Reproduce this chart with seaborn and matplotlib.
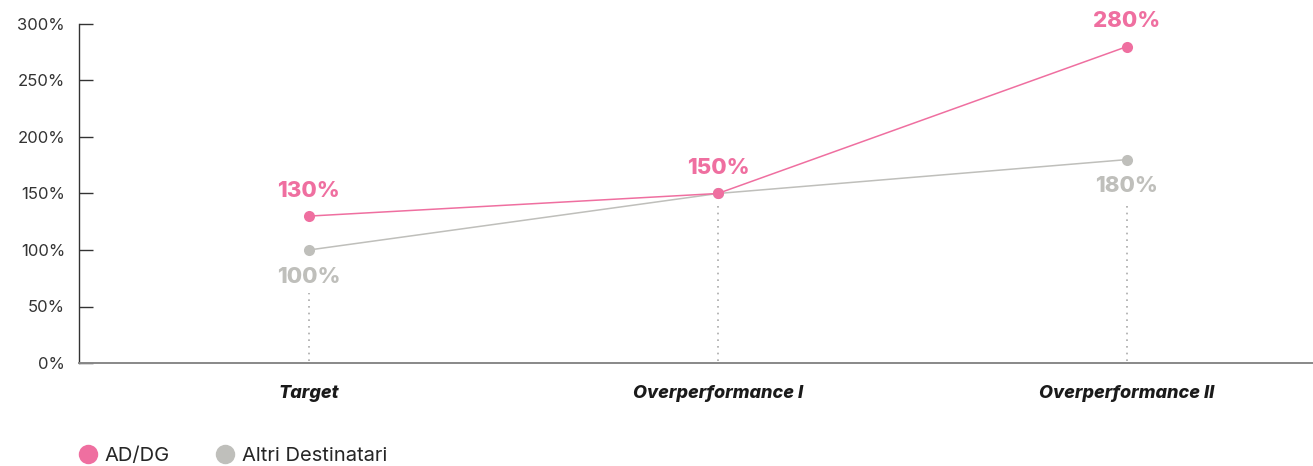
import pandas as pd
import matplotlib.pyplot as plt
import seaborn as sns
from matplotlib.lines import Line2D

# Chart data
categories = ['Target', 'Overperformance I', 'Overperformance II']
ad_dg = [130, 150, 280]
altri = [100, 150, 180]
series_names = ['AD/DG', 'Altri Destinatari']
y_ticks = [0, 50, 100, 150, 200, 250, 300]

pink = '#EF6FA0'
grey = '#BFBFBB'

df = pd.DataFrame({
    'Categoria': categories * 2,
    'Valore': ad_dg + altri,
    'Serie': [series_names[0]] * 3 + [series_names[1]] * 3,
})

sns.set_style('white')
plt.rcParams['font.family'] = ['Inter', 'DejaVu Sans']

fig = plt.figure(figsize=(13.13, 4.66), dpi=100)
ax = fig.add_axes([79 / 1313, 1 - 363 / 466, 1 - 79 / 1313, (363 - 24) / 466])

sns.lineplot(data=df, x='Categoria', y='Valore', hue='Serie', hue_order=series_names[::-1],
             palette={series_names[0]: pink, series_names[1]: grey},
             marker='o', markersize=8, markeredgewidth=0, linewidth=1.1, legend=False, ax=ax)

ax.set_xlim(-0.562, 2.455)
ax.set_ylim(0, 300)
ax.set_yticks(y_ticks)
ax.set_yticklabels([f'{v}%' for v in y_ticks], fontsize=12, color='#333333')
ax.set_xticks(range(len(categories)))
ax.set_xticklabels(categories, fontsize=13, fontweight='heavy', fontstyle='italic', color='#1a1a1a')
ax.tick_params(axis='y', left=True, direction='in', length=10, width=1, color='#333333', pad=10)
ax.tick_params(axis='x', bottom=False, length=0, pad=16)
ax.set_xlabel('')
ax.set_ylabel('')

for side in ['top', 'right']:
    ax.spines[side].set_visible(False)
ax.spines['left'].set_color('#333333')
ax.spines['bottom'].set_color('#888888')
ax.spines['left'].set_linewidth(1)
ax.spines['bottom'].set_linewidth(1.4)

# value labels and dotted guides
for i, (a, b) in enumerate(zip(ad_dg, altri)):
    if a >= b:
        ax.annotate(f'{a}%', (i, a), xytext=(0, 11), textcoords='offset points',
                    ha='center', va='bottom', fontsize=16, fontweight='heavy', color=pink)
    if b < a:
        ax.annotate(f'{b}%', (i, b), xytext=(0, -12), textcoords='offset points',
                    ha='center', va='top', fontsize=16, fontweight='heavy', color=grey)
        top = b - 38
    else:
        top = b - 8
    ax.plot([i, i], [2, top], linestyle=(0, (1, 3)), color='#AAAAAA', linewidth=1.2)

handles = [Line2D([], [], marker='o', linestyle='', markersize=14, markeredgewidth=0, color=c)
           for c in [pink, grey]]
fig.legend(handles, series_names, loc='lower left', bbox_to_anchor=(0.043, -0.037), ncol=2,
           frameon=False, fontsize=14.5, handletextpad=0.2, columnspacing=2.1, handlelength=1.3)

fig.savefig('out.png', dpi=100)
